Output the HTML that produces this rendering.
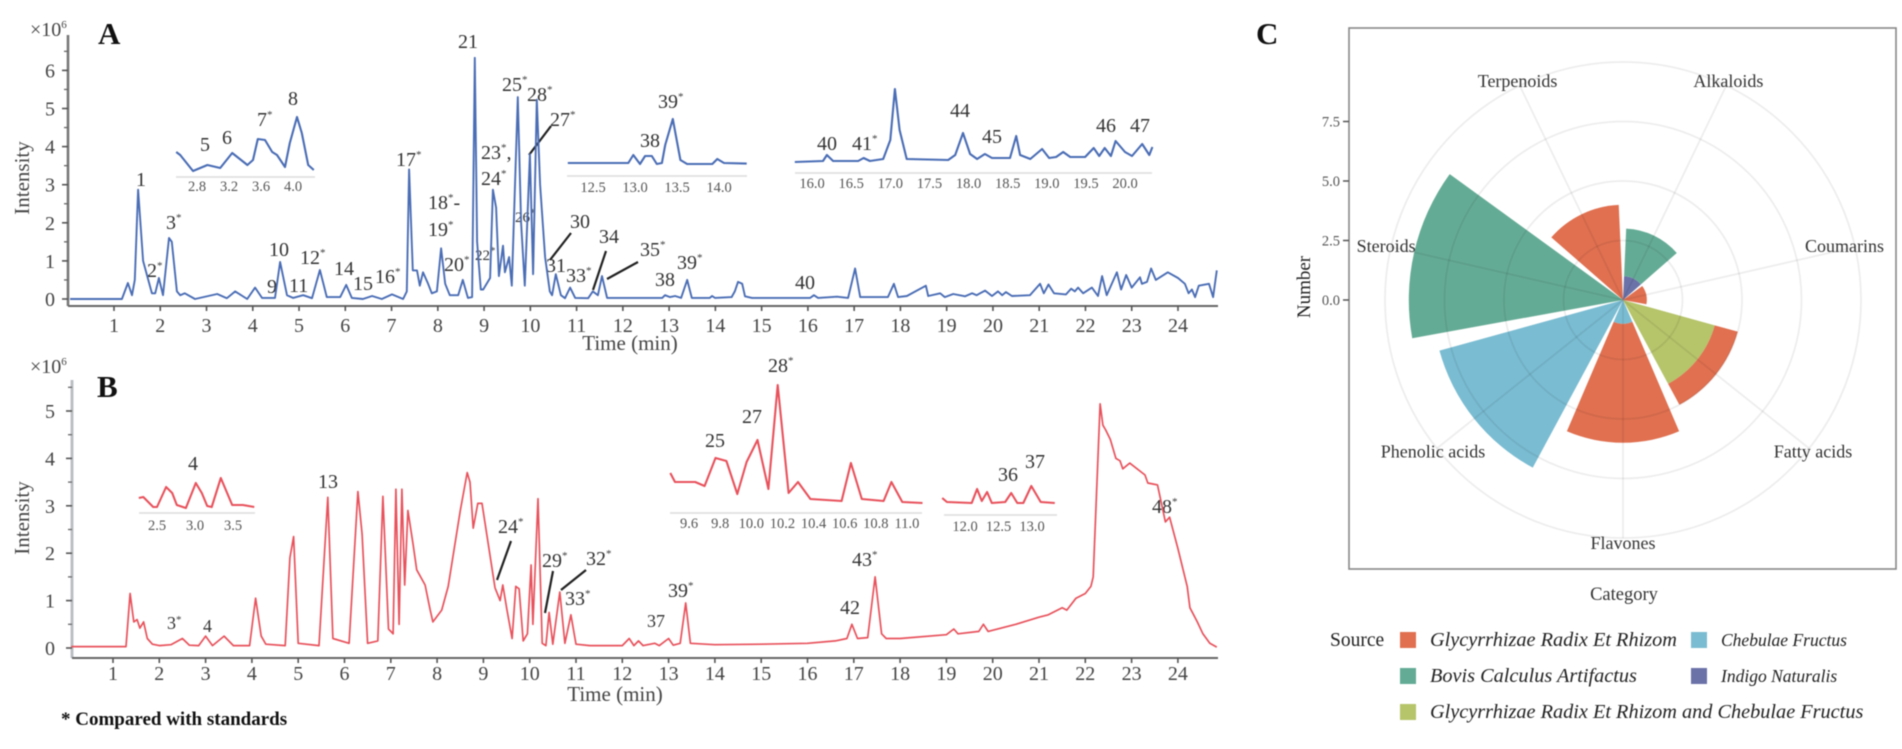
<!DOCTYPE html>
<html lang="en">
<head>
<meta charset="utf-8">
<title>Chromatograms and source composition</title>
<style>
html,body{margin:0;padding:0;background:#fff;width:1902px;height:749px;overflow:hidden}
svg{display:block;filter:blur(.55px)}
text{font-family:"Liberation Serif",serif;fill:#333}
.pk{font-size:20px}
.pks{font-size:15px}
.sup{font-size:11px}
.it{font-size:14.5px;fill:#555}
.tk{font-size:20px;fill:#444}
.ti{font-size:21px;fill:#444}
.pan{font-size:31px;font-weight:bold;fill:#111}
.cat{font-size:18px;fill:#333}
.leg{font-size:20.3px;font-style:italic;fill:#222}
.leg2{font-size:17.5px;font-style:italic;fill:#222}
.lead{stroke:#222;stroke-width:2.2;fill:none}
</style>
</head>
<body>
<svg id="fig" xmlns="http://www.w3.org/2000/svg" width="1902" height="749" viewBox="0 0 1902 749">
<g id="chartA">
<text class="pan" x="98" y="44">A</text>
<text class="tk" x="30" y="36">×10<tspan class="sup" dy="-8">6</tspan></text>
<text class="ti" transform="translate(29 178) rotate(-90)" text-anchor="middle">Intensity</text>
<text class="ti" x="630" y="350" text-anchor="middle">Time (min)</text>
<g>
<text class="pk" x="136" y="186">1</text>
<text class="pk" x="147" y="277">2<tspan class="sup" dy="-8">*</tspan></text>
<text class="pk" x="166" y="229">3<tspan class="sup" dy="-8">*</tspan></text>
<text class="pk" x="200" y="151">5</text>
<text class="pk" x="222" y="144">6</text>
<text class="pk" x="257" y="126">7<tspan class="sup" dy="-8">*</tspan></text>
<text class="pk" x="288" y="105">8</text>
<text class="pk" x="267" y="293">9</text>
<text class="pk" x="269" y="256">10</text>
<text class="pk" x="289" y="292">11</text>
<text class="pk" x="300" y="264">12<tspan class="sup" dy="-8">*</tspan></text>
<text class="pk" x="334" y="275">14</text>
<text class="pk" x="353" y="290">15</text>
<text class="pk" x="375" y="283">16<tspan class="sup" dy="-8">*</tspan></text>
<text class="pk" x="396" y="166">17<tspan class="sup" dy="-8">*</tspan></text>
<text class="pk" x="428" y="209">18<tspan class="sup" dy="-8">*</tspan><tspan dy="8">-</tspan></text>
<text class="pk" x="428" y="236">19<tspan class="sup" dy="-8">*</tspan></text>
<text class="pk" x="444" y="271">20<tspan class="sup" dy="-8">*</tspan></text>
<text class="pk" x="458" y="48">21</text>
<text class="pks" x="475" y="260">22<tspan class="sup" dy="-6">*</tspan></text>
<text class="pk" x="481" y="159">23<tspan class="sup" dy="-8">*</tspan><tspan dy="8">,</tspan></text>
<text class="pk" x="481" y="185">24<tspan class="sup" dy="-8">*</tspan></text>
<text class="pk" x="502" y="91">25<tspan class="sup" dy="-8">*</tspan></text>
<text class="pks" x="515" y="222">26<tspan class="sup" dy="-6">*</tspan></text>
<text class="pk" x="550" y="126">27<tspan class="sup" dy="-8">*</tspan></text>
<text class="pk" x="527" y="101">28<tspan class="sup" dy="-8">*</tspan></text>
<text class="pk" x="570" y="228">30</text>
<text class="pk" x="546" y="272">31</text>
<text class="pk" x="566" y="282">33<tspan class="sup" dy="-8">*</tspan></text>
<text class="pk" x="599" y="243">34</text>
<text class="pk" x="640" y="256">35<tspan class="sup" dy="-8">*</tspan></text>
<text class="pk" x="655" y="286">38</text>
<text class="pk" x="677" y="269">39<tspan class="sup" dy="-8">*</tspan></text>
<text class="pk" x="795" y="289">40</text>
<text class="pk" x="640" y="147">38</text>
<text class="pk" x="658" y="108">39<tspan class="sup" dy="-8">*</tspan></text>
<text class="pk" x="817" y="150">40</text>
<text class="pk" x="852" y="150">41<tspan class="sup" dy="-8">*</tspan></text>
<text class="pk" x="950" y="117">44</text>
<text class="pk" x="982" y="143">45</text>
<text class="pk" x="1096" y="132">46</text>
<text class="pk" x="1130" y="132">47</text>
<path class="lead" d="M551 126L529 155"/>
<path class="lead" d="M571 233L550 260"/>
<path class="lead" d="M606 251L593 290"/>
<path class="lead" d="M638 262L607 279"/>
</g>
</g>
<g id="chartB">
<text class="pan" x="97" y="397">B</text>
<text class="tk" x="30" y="373">×10<tspan class="sup" dy="-8">6</tspan></text>
<text class="ti" transform="translate(29 518) rotate(-90)" text-anchor="middle">Intensity</text>
<text class="ti" x="615" y="701" text-anchor="middle">Time (min)</text>
<g>
<text class="pk" x="188" y="470">4</text>
<text class="pk" x="318" y="488">13</text>
<text class="pk" x="498" y="533">24<tspan class="sup" dy="-8">*</tspan></text>
<text class="pk" x="542" y="567">29<tspan class="sup" dy="-8">*</tspan></text>
<text class="pk" x="586" y="565">32<tspan class="sup" dy="-8">*</tspan></text>
<text class="pk" x="565" y="605">33<tspan class="sup" dy="-8">*</tspan></text>
<text class="pk" x="668" y="597">39<tspan class="sup" dy="-8">*</tspan></text>
<text class="pk" style="font-size:18px" x="167" y="629">3<tspan class="sup" dy="-6">*</tspan></text>
<text class="pk" style="font-size:18px" x="203" y="632">4</text>
<text class="pk" style="font-size:18px" x="647" y="627">37</text>
<text class="pk" x="840" y="614">42</text>
<text class="pk" x="852" y="566">43<tspan class="sup" dy="-8">*</tspan></text>
<text class="pk" x="1152" y="513">48<tspan class="sup" dy="-8">*</tspan></text>
<text class="pk" x="705" y="447">25</text>
<text class="pk" x="742" y="423">27</text>
<text class="pk" x="768" y="372">28<tspan class="sup" dy="-8">*</tspan></text>
<text class="pk" x="998" y="481">36</text>
<text class="pk" x="1025" y="468">37</text>
<path class="lead" d="M511 541L497 580"/>
<path class="lead" d="M553 571L545 613"/>
<path class="lead" d="M586 570L561 590"/>
</g>
<text x="61" y="725" style="font-size:19px;font-weight:bold;fill:#111">* Compared with standards</text>
</g>
<g id="chartC">
<text class="pan" x="1256" y="44">C</text>
<rect x="1349" y="28" width="547" height="541" fill="none" stroke="#888" stroke-width="1.6"/>
<text class="ti" transform="translate(1310 287) rotate(-90)" text-anchor="middle" style="font-size:19px;fill:#222">Number</text>
<text x="1624" y="600" text-anchor="middle" style="font-size:18.5px;fill:#333">Category</text>
<g>
<text x="1330" y="646" style="font-size:19.5px;fill:#222">Source</text>
<rect x="1400" y="632" width="16" height="16" fill="#e07050"/>
<text class="leg" x="1430" y="646">Glycyrrhizae Radix Et Rhizom</text>
<rect x="1691" y="632" width="16" height="16" fill="#7abcd2"/>
<text class="leg2" x="1721" y="646">Chebulae Fructus</text>
<rect x="1400" y="668" width="16" height="16" fill="#64ab95"/>
<text class="leg" x="1430" y="682">Bovis Calculus Artifactus</text>
<rect x="1691" y="668" width="16" height="16" fill="#6a72a8"/>
<text class="leg2" x="1721" y="682">Indigo Naturalis</text>
<rect x="1400" y="704" width="16" height="16" fill="#b6c46a"/>
<text class="leg" x="1430" y="718">Glycyrrhizae Radix Et Rhizom and Chebulae Fructus</text>
</g>
</g>
</svg>
<script>
var timesA=[0.05,1.17,1.3,1.39,1.45,1.52,1.63,1.82,1.89,1.97,2.06,2.19,2.25,2.36,2.43,2.53,2.75,3.23,3.44,3.62,3.88,4.05,4.2,4.48,4.59,4.74,4.87,5.09,5.28,5.45,5.6,5.89,6.02,6.14,6.38,6.58,6.79,7.01,7.25,7.33,7.38,7.46,7.55,7.61,7.68,7.79,7.87,7.98,8.07,8.16,8.26,8.44,8.54,8.65,8.74,8.8,8.85,8.93,8.98,9.13,9.19,9.26,9.32,9.41,9.45,9.54,9.6,9.73,9.8,9.88,9.99,10.06,10.14,10.21,10.32,10.42,10.47,10.55,10.66,10.75,10.86,10.97,11.25,11.35,11.46,11.55,11.66,12.85,12.91,13.02,13.13,13.26,13.39,13.49,13.88,13.93,13.99,14.35,14.42,14.49,14.58,14.64,14.79,16.05,16.13,16.22,16.63,16.87,17.02,17.13,17.73,17.86,17.95,18.14,18.55,18.6,18.86,18.96,19.14,19.4,19.55,19.65,19.72,19.83,19.98,20.11,20.2,20.28,20.41,20.8,21.02,21.1,21.2,21.32,21.58,21.69,21.77,21.84,21.95,22.14,22.27,22.36,22.46,22.68,22.77,22.88,23,23.18,23.22,23.33,23.42,23.52,23.78,24,24.15,24.23,24.3,24.37,24.45,24.67,24.76,24.84];
var intensityA=[0,0,.42,.1,.5,2.87,1,.15,.15,.55,.1,1.6,1.5,.2,.1,.15,0,.13,.02,.2,0,.3,.03,.03,.97,.1,.03,.1,.02,.76,.05,.05,.37,.03,0,.08,0,.12,0,.2,3.4,.75,.75,.35,.7,.4,.15,.2,1.33,.4,.1,.1,.5,.03,.05,6.33,1.5,.25,.25,.55,2.87,2.4,.6,1.4,.7,1.1,.35,5.3,2,.35,3.8,.65,5.23,3,1.1,.2,.1,.65,.1,.02,.3,.03,.02,.2,.1,.6,.03,.03,.1,.05,.08,.03,.5,.03,.03,.08,.03,.05,.2,.45,.4,.07,.03,.03,.1,.03,.06,.03,.8,.05,.05,.4,.05,.08,.35,.08,.15,.05,.13,.07,.15,.1,.15,.22,.08,.2,.1,.18,.08,.1,.4,.15,.38,.15,.12,.27,.2,.3,.15,.3,.08,.6,.1,.7,.25,.63,.3,.57,.4,.45,.8,.5,.7,.55,.4,.15,.25,.05,.35,.4,.05,.75];
var timesB=[0.1,1.28,1.37,1.45,1.52,1.58,1.66,1.74,1.85,2,2.25,2.5,2.65,2.85,3,3.15,3.4,3.6,3.95,4.08,4.2,4.3,4.72,4.82,4.9,5,5.45,5.64,5.75,6.1,6.29,6.38,6.5,6.72,6.83,6.95,7.05,7.11,7.18,7.24,7.3,7.37,7.48,7.56,7.74,7.85,7.91,8.1,8.24,8.5,8.65,8.71,8.78,8.88,8.97,9.25,9.36,9.42,9.51,9.62,9.7,9.77,9.86,9.95,10.03,10.07,10.18,10.27,10.35,10.42,10.5,10.65,10.76,10.89,11,11.3,12,12.15,12.25,12.35,12.45,12.7,12.8,13,13.1,13.25,13.37,13.47,14,15,16,16.6,16.85,16.96,17.08,17.3,17.46,17.6,17.7,18,19,19.16,19.25,19.7,19.8,19.9,20.5,21,21.2,21.5,21.6,21.8,22,22.12,22.17,22.32,22.38,22.44,22.54,22.66,22.75,22.81,22.96,23.29,23.35,23.46,23.56,23.73,23.82,24,24.2,24.26,24.42,24.54,24.69,24.84];
var intensityB=[.03,.03,1.15,.55,.6,.42,.55,.2,.08,.05,.07,.2,.06,.05,.25,.05,.25,.05,.05,1.05,.25,.08,.05,1.9,2.35,.1,.05,3.18,.2,.1,3.3,2.4,.1,.15,3.2,.4,.3,3.35,.5,3.35,1.33,2.9,2.2,1.65,1.33,.8,.55,.8,1.3,2.9,3.7,3.5,2.53,3.05,3.05,1.27,1,1.33,.8,.2,1.3,1.25,.15,.3,1.75,.5,3.15,.1,.05,.75,.08,1.18,.1,.7,.08,.05,.05,.2,.05,.15,.05,.1,.05,.2,.06,.1,.95,.1,.07,.08,.1,.15,.2,.5,.2,.22,1.5,.3,.2,.2,.28,.4,.3,.35,.5,.35,.5,.65,.7,.85,.8,1.05,1.15,1.3,1.5,5.15,4.7,4.6,4.4,4,3.95,3.78,3.9,3.65,3.48,3.46,3.44,2.66,2.76,2.1,1.3,.85,.55,.3,.1,.02];
var ticksMain=[1,2,3,4,5,6,7,8,9,10,11,12,13,14,15,16,17,18,19,20,21,22,23,24];
var ticksYA=[0,1,2,3,4,5,6];
var ticksYB=[0,1,2,3,4,5];
var inset1T=[2.54,2.59,2.75,2.93,3.09,3.24,3.43,3.5,3.56,3.65,3.74,3.8,3.9,3.96,4.05,4.11,4.19,4.26];
var inset1I=[1.25,1.1,.3,.6,.45,1.2,.6,.85,1.9,1.85,1.25,1.1,.5,1.7,3,2.2,.6,.35];
var inset1Ticks=['2.8','3.2','3.6','4.0'];
var inset2T=[12.2,12.92,12.98,13.06,13.12,13.2,13.26,13.32,13.36,13.45,13.54,13.62,13.92,13.98,14.06,14.33];
var inset2I=[.65,.65,1.05,.6,1,1,.6,.65,1.55,2.85,.8,.6,.6,.85,.65,.62];
var inset2Ticks=['12.5','13.0','13.5','14.0'];
var inset3T=[15.78,16.14,16.19,16.27,16.59,16.66,16.74,16.91,17,17.06,17.12,17.21,17.74,17.83,17.93,18.02,18.11,18.21,18.3,18.53,18.61,18.66,18.79,18.94,19.03,19.12,19.21,19.3,19.49,19.6,19.67,19.74,19.82,19.88,20,20.09,20.22,20.31,20.35];
var inset3I=[.55,.6,.9,.6,.6,.75,.6,.7,1.65,4.2,2.15,.7,.65,.9,2,.95,.7,.95,.75,.75,1.85,.9,.7,1.2,.75,.8,1.05,.8,.8,1.25,.85,1.25,.85,1.6,1.05,.85,1.45,.9,1.3];
var inset3Ticks=['16.0','16.5','17.0','17.5','18.0','18.5','19.0','19.5','20.0'];
var inset4T=[2.26,2.32,2.45,2.5,2.62,2.7,2.76,2.88,3.01,3.09,3.16,3.22,3.34,3.49,3.63,3.78];
var inset4I=[.75,.8,.3,.3,1.3,1,.4,.25,1.5,1,.35,.3,1.75,.4,.4,.3];
var inset4Ticks=['2.5','3.0','3.5'];
var inset5T=[9.48,9.51,9.64,9.7,9.77,9.84,9.91,9.97,10.04,10.11,10.17,10.24,10.3,10.38,10.58,10.64,10.71,10.85,10.9,10.97,11.1];
var inset5I=[2,1.55,1.55,1.35,2.75,2.6,.95,2.55,3.65,1.2,6.4,1,1.55,.7,.6,2.5,.7,.6,1.55,.55,.5];
var inset5Ticks=['9.6','9.8','10.0','10.2','10.4','10.6','10.8','11.0'];
var inset6T=[11.66,11.73,12.1,12.18,12.25,12.33,12.4,12.6,12.69,12.78,12.87,12.99,13.13,13.34];
var inset6I=[.85,.65,.6,1.3,.7,1.15,.6,.65,1.1,.6,.6,1.45,.65,.6];
var inset6Ticks=['12.0','12.5','13.0'];
var categories=['Alkaloids','Coumarins','Fatty acids','Flavones','Phenolic acids','Steroids','Terpenoids'];
var indigoCounts=[1,0,0,0,0,0,0];
var chebulaeCounts=[0,0,0,1,8,0,0];
var mixedCounts=[0,0,4,0,0,0,0];
var glycyrrhizaeCounts=[0,1,1,5,0,0,4];
var bovisCounts=[2,0,0,0,0,9,0];
var radialTicks=[0,2.5,5,7.5];
var gridRings=[2.5,5,7.5,10];

var NS='http://www.w3.org/2000/svg';
function mk(tag,parent){var e=document.createElementNS(NS,tag);parent.appendChild(e);return e;}
function xA(t){return 114+46.26*(t-1);}
function yA(v){return 299-38.1*v;}
function xB(t){return 113+46.3*(t-1);}
function yB(v){return 648-47.4*v;}
function pathOf(ts,vs,xf,yf){var d='';for(var i=0;i<ts.length;i++){d+=(i?'L':'M')+xf(ts[i]).toFixed(1)+' '+yf(vs[i]).toFixed(1);}return d;}
function trace(parent,ts,vs,xf,yf,color,w,name){
  var p=mk('path',parent);
  p.setAttribute('d',pathOf(ts,vs,xf,yf));
  p.setAttribute('fill','none');
  p.setAttribute('stroke',color);
  p.setAttribute('stroke-width',w);
  p.setAttribute('stroke-linejoin','round');
  
  
}
function axisLine(parent,x1,y1,x2,y2,color,w,name){
  var l=mk('line',parent);
  l.setAttribute('x1',x1);l.setAttribute('y1',y1);l.setAttribute('x2',x2);l.setAttribute('y2',y2);
  l.setAttribute('stroke',color);l.setAttribute('stroke-width',w);
  
  
}
function tickText(parent,x,y,str,cls,anchor,name){
  var t=mk('text',parent);
  t.setAttribute('x',x);t.setAttribute('y',y);
  t.setAttribute('class',cls);
  t.setAttribute('text-anchor',anchor);
  t.textContent=str;
  
  
  return t;
}
function mainAxes(parent,xf,yf,axisX,axisY,axisTop,axisColor,axisW,yTicks,labelY,suffix){
  axisLine(parent,axisX,axisTop,axisX,axisY,axisColor,axisW,'y-axis-'+suffix);
  axisLine(parent,axisX,axisY,1218,axisY,'#666',2,'x-axis-'+suffix);
  ticksMain.forEach(function(t){
    axisLine(parent,xf(t),axisY,xf(t),axisY+5,'#555',1.6,'x-tick-'+suffix);
    tickText(parent,xf(t),labelY,String(t),'tk','middle','x-tick-label-'+suffix);
  });
  yTicks.forEach(function(v){
    axisLine(parent,axisX-6,yf(v),axisX,yf(v),'#555',1.6,'y-tick-'+suffix);
    tickText(parent,55,yf(v)+7,String(v),'tk','end','y-tick-label-'+suffix);
    axisLine(parent,axisX-4,yf(v+.5),axisX,yf(v+.5),'#666',1.3,'y-minor-tick-'+suffix);
  });
}
function inset(parent,ts,vs,axisY,x0,pxPerMin,t0,lineL,lineR,ticks,labelY,color,name){
  function ix(t){return x0+pxPerMin*(t-t0);}
  function iy(v){return axisY-20*v;}
  axisLine(parent,lineL,axisY,lineR,axisY,'#dcdcdc',1.4,name+'-axis');
  ticks.forEach(function(s){
    tickText(parent,ix(parseFloat(s)),labelY,s,'it','middle',name+'-tick-label');
  });
  trace(parent,ts,vs,ix,iy,color,2.1,name+'-trace');
}
var gA=document.getElementById('chartA');
var gB=document.getElementById('chartB');
var gC=document.getElementById('chartC');
var BLUE='#4a6db5',RED='#e8525c';
mainAxes(gA,xA,yA,68,306,35,'#777',2.6,ticksYA,332,'a');
mainAxes(gB,xB,yB,72,658,380,'#bcc0c4',3,ticksYB,680,'b');
trace(gA,timesA,intensityA,xA,yA,BLUE,1.9,'trace-a');
trace(gB,timesB,intensityB,xB,yB,RED,1.7,'trace-b');
inset(gA,inset1T,inset1I,177,197,80,2.8,176,315,inset1Ticks,191,BLUE,'inset-a1');
inset(gA,inset2T,inset2I,176,593,84,12.5,567,747,inset2Ticks,192,BLUE,'inset-a2');
inset(gA,inset3T,inset3I,173,812,78.25,16,795,1152,inset3Ticks,188,BLUE,'inset-a3');
inset(gB,inset4T,inset4I,513,157,76,2.5,139,255,inset4Ticks,530,RED,'inset-b1');
inset(gB,inset5T,inset5I,513,689,155.7,9.6,670,922,inset5Ticks,528,RED,'inset-b2');
inset(gB,inset6T,inset6I,515,965,67,12,944,1057,inset6Ticks,531,RED,'inset-b3');

var CX=1623,CY=300;
function rOf(v){return 23.8*v;}
function angOf(i){return (i+.5)*360/categories.length;}
function pt(deg,r){var a=deg*Math.PI/180;return [CX+r*Math.sin(a),CY-r*Math.cos(a)];}
function wedge(parent,cat,v0,v1,color,name){
  var half=.45*360/categories.length,c=angOf(cat),r0=rOf(v0),r1=rOf(v1);
  var a=pt(c-half,r1),b=pt(c+half,r1),d=pt(c+half,r0),e=pt(c-half,r0);
  var s='M'+e[0]+' '+e[1]+'L'+a[0]+' '+a[1]+'A'+r1+' '+r1+' 0 0 1 '+b[0]+' '+b[1]+'L'+d[0]+' '+d[1];
  if(r0>0){s+='A'+r0+' '+r0+' 0 0 0 '+e[0]+' '+e[1];}
  s+='Z';
  var p=mk('path',parent);
  p.setAttribute('d',s);
  p.setAttribute('fill',color);
  
  
}
var stack=[[indigoCounts,'#6a72a8','bar-indigo'],[chebulaeCounts,'#7abcd2','bar-chebulae'],[mixedCounts,'#b6c46a','bar-mixed'],[glycyrrhizaeCounts,'#e07050','bar-glycyrrhizae'],[bovisCounts,'#64ab95','bar-bovis']];
categories.forEach(function(c,i){
  var base=0;
  stack.forEach(function(s){
    var v=s[0][i];
    if(v>0){wedge(gC,i,base,base+v,s[1],s[2]);base+=v;}
  });
});
gridRings.forEach(function(v){
  var c=mk('circle',gC);
  c.setAttribute('cx',CX);c.setAttribute('cy',CY);c.setAttribute('r',rOf(v));
  c.setAttribute('fill','none');c.setAttribute('stroke','rgba(0,0,0,.07)');c.setAttribute('stroke-width',1.8);
  
  
});
categories.forEach(function(name,i){
  var e=pt(angOf(i),rOf(10));
  axisLine(gC,CX,CY,e[0],e[1],'rgba(0,0,0,.07)',1.8,'grid-spoke');
});
radialTicks.forEach(function(v){
  axisLine(gC,1343,CY-rOf(v),1349,CY-rOf(v),'#555',1.5,'number-tick');
  tickText(gC,1340,CY-rOf(v)+5,v.toFixed(1),'it','end','number-tick-label');
});
categories.forEach(function(name,i){
  var p=pt(angOf(i),243);
  var label=tickText(gC,p[0],p[1]+6,name,'cat','middle','category-label');
  var half=label.getComputedTextLength()/2;
  var cx=Math.min(Math.max(p[0],1352+half),1884-half);
  label.setAttribute('x',cx);
});
</script>
</body>
</html>
